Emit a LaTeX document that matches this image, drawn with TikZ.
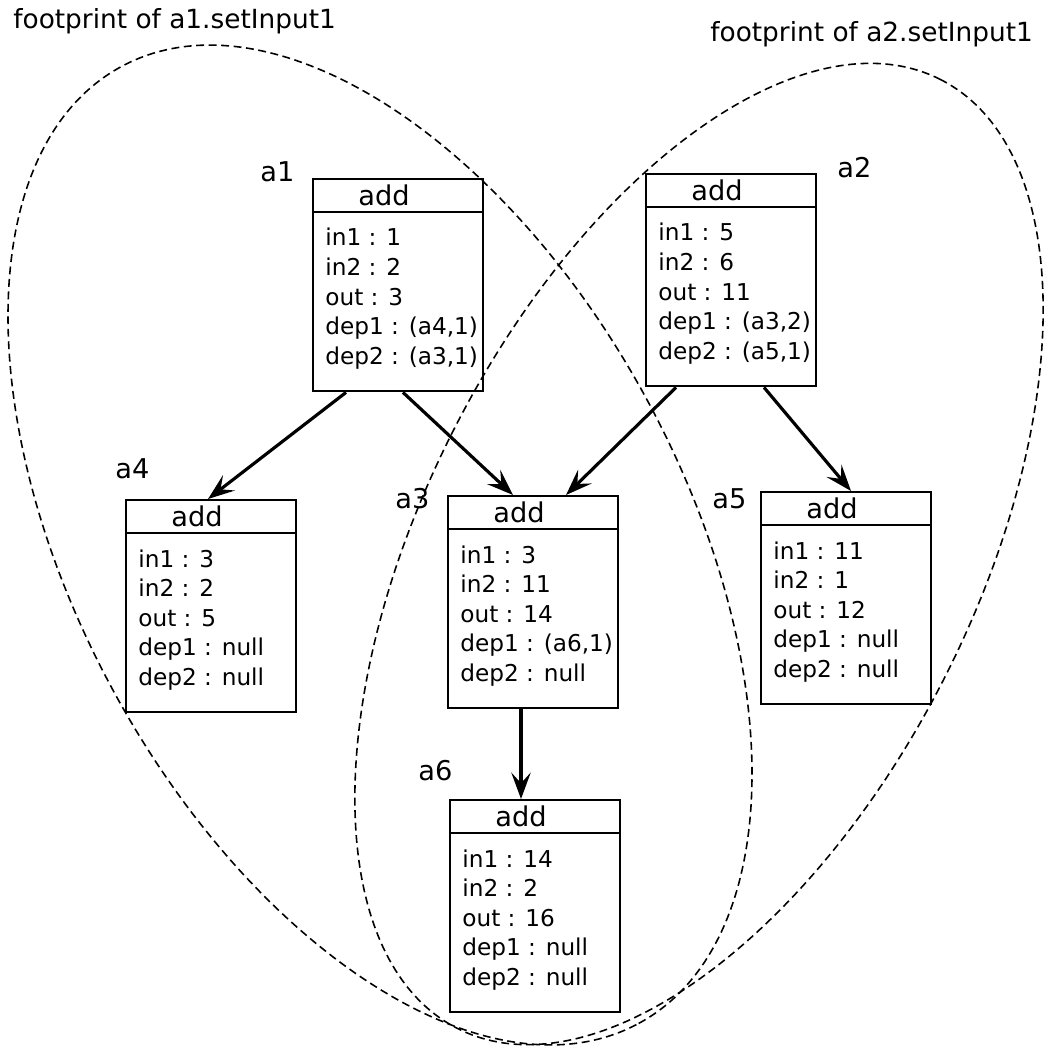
\documentclass[tikz,border=0pt]{standalone}
\usepackage{fontspec}
\setmainfont{DejaVu Sans}
\usetikzlibrary{calc,arrows.meta}

% one "add" object: name, top left corner, name label position, fields
\newcommand{\objbox}[4]{%
  \node[objbox] (#1) at (#2) {};
  \draw[objline] ($(#1.north west)+(0,34)$) -- ($(#1.north east)+(0,34)$);
  \node[headtext] (#1-head) at ($(#1.north west)+(46,27.5)$) {add};
  \node[bodytext] (#1-body) at ($(#1.north west)+(13,68)$)
    {\begin{tabular}[t]{@{}l@{}}#4\end{tabular}};
  \node[namelabel] (#1-name) at (#3) {#1};
}

\tikzset{
  objbox/.style={draw, line width=1.4pt, minimum width=3.4cm,
    minimum height=4.24cm, inner sep=0pt, anchor=north west},
  objline/.style={line width=1.4pt},
  headtext/.style={anchor=base west, inner sep=0pt,
    font=\fontsize{15.5}{18}\selectfont},
  bodytext/.style={anchor=base west, inner sep=0pt,
    font=\fontsize{13.2}{16.8}\selectfont},
  namelabel/.style={anchor=base west, inner sep=0pt,
    font=\fontsize{15.5}{18}\selectfont},
  titletext/.style={anchor=base west, inner sep=0pt,
    font=\fontsize{15}{18}\selectfont},
  footprint/.style={line width=0.9pt, dash pattern=on 4.5pt off 2.6pt},
  dep/.style={line width=1.8pt, -{Stealth[length=15pt, width=11pt, inset=6pt]}}
}

\begin{document}
\begin{tikzpicture}[x=0.02cm, y=-0.02cm]
\useasboundingbox (0, 0) rectangle (1048, 1053);

% footprints
\draw[footprint, rotate around={-61.6:(380,545)}] (380,545)
  ellipse [x radius=10.88cm, y radius=6.08cm];
\draw[footprint, rotate around={63:(699,554)}] (699,554)
  ellipse [x radius=10.65cm, y radius=5.5cm];
\node[titletext] (fp1) at (13, 29) {footprint of a1.setInput1};
\node[titletext] (fp2) at (710, 42) {footprint of a2.setInput1};

\objbox{a1}{312,178}{260,182}{in1 : 1\\in2 : 2\\out : 3\\dep1 : (a4,1)\\dep2 : (a3,1)}
\objbox{a2}{645,173}{837,178}{in1 : 5\\in2 : 6\\out : 11\\dep1 : (a3,2)\\dep2 : (a5,1)}
\objbox{a4}{125,499}{115,478}{in1 : 3\\in2 : 2\\out : 5\\dep1 : null\\dep2 : null}
\objbox{a3}{447,495}{395,508}{in1 : 3\\in2 : 11\\out : 14\\dep1 : (a6,1)\\dep2 : null}
\objbox{a5}{760,491}{712,508}{in1 : 11\\in2 : 1\\out : 12\\dep1 : null\\dep2 : null}
\objbox{a6}{449,799}{418,780}{in1 : 14\\in2 : 2\\out : 16\\dep1 : null\\dep2 : null}

% dependencies
\draw[dep] ($(a1.south west)+(34,0)$) -- ($(a4.north west)+(83,0)$);
\draw[dep] ($(a1.south west)+(91,0)$) -- ($(a3.north west)+(66,0)$);
\draw[dep] ($(a2.south west)+(31,0)$) -- ($(a3.north west)+(119,0)$);
\draw[dep] ($(a2.south west)+(119,0)$) -- ($(a5.north west)+(91,0)$);
\draw[dep] ($(a3.south west)+(74,0)$) -- ($(a6.north west)+(72,0)$);
\end{tikzpicture}
\end{document}
